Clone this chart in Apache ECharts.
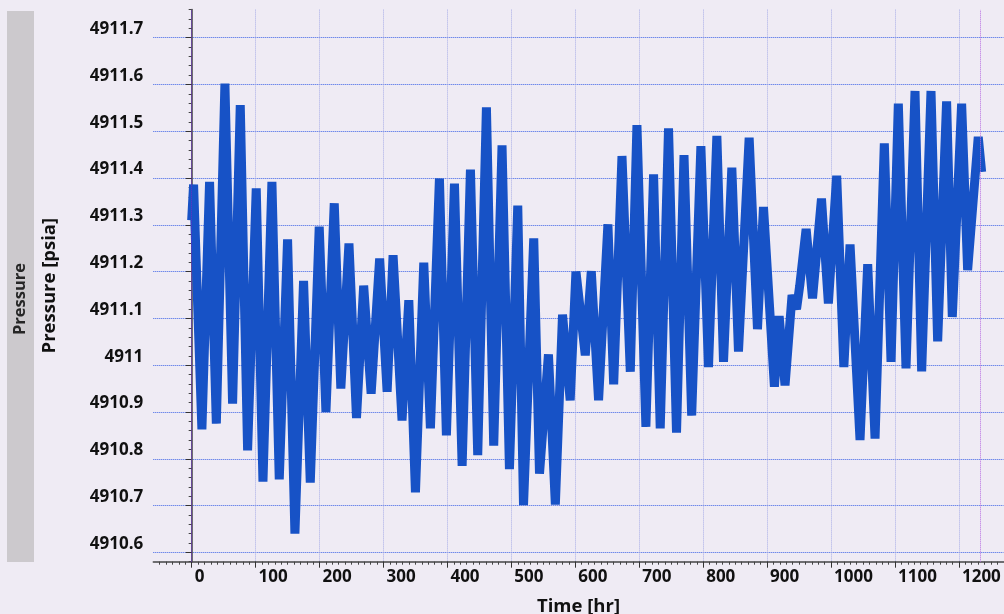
<!DOCTYPE html>
<html>
<head>
<meta charset="utf-8">
<script src="https://cdn.jsdelivr.net/npm/echarts@6/dist/echarts.min.js"></script>
<style>
html,body{margin:0;padding:0;background:#efebf4;}
#chart{width:1004px;height:614px;}
</style>
</head>
<body>
<div id="chart"></div>
<script>
// ---- data (turning points of the signal) ----
const timeHr = [0, 3, 16, 28, 38.6, 52, 64, 76, 87.5, 101, 111.5, 125.5, 137, 150, 161.5, 175, 185.5, 199.5, 210, 223, 233.3, 246, 257.8, 269, 280.7, 294, 305.7, 315, 329, 339.6, 350, 363, 373.4, 387.5, 398.4, 411, 423, 436, 447.4, 461, 472.4, 485.4, 497, 510, 519, 535, 544, 558, 568.8, 580, 592, 601, 615.6, 625, 636.4, 651, 660, 673, 686, 696.4, 710.4, 722.4, 732.8, 745.8, 758.3, 770, 782, 796.4, 808.3, 821.4, 831.8, 844.8, 855.2, 871.9, 884.9, 894.3, 911.4, 918.8, 928, 939, 946, 951, 961, 971, 985, 995.8, 1008.8, 1020, 1029.7, 1045.3, 1057.3, 1068.8, 1083.3, 1093.8, 1105.2, 1117.2, 1131.3, 1141.7, 1156.3, 1166.7, 1180.7, 1189.6, 1204.2, 1213.6, 1230.2, 1235.5];
const pressurePsia = [4911.31, 4911.386, 4910.863, 4911.392, 4910.875, 4911.602, 4910.918, 4911.556, 4910.818, 4911.378, 4910.751, 4911.392, 4910.756, 4911.269, 4910.640, 4911.180, 4910.749, 4911.296, 4910.900, 4911.346, 4910.950, 4911.260, 4910.887, 4911.170, 4910.939, 4911.228, 4910.943, 4911.235, 4910.882, 4911.139, 4910.728, 4911.219, 4910.865, 4911.399, 4910.850, 4911.388, 4910.785, 4911.418, 4910.808, 4911.551, 4910.828, 4911.470, 4910.778, 4911.341, 4910.701, 4911.271, 4910.768, 4911.023, 4910.702, 4911.108, 4910.925, 4911.200, 4911.021, 4911.201, 4910.925, 4911.301, 4910.959, 4911.447, 4910.986, 4911.513, 4910.868, 4911.408, 4910.865, 4911.506, 4910.856, 4911.449, 4910.892, 4911.468, 4910.996, 4911.490, 4911.007, 4911.422, 4911.029, 4911.486, 4911.077, 4911.338, 4910.954, 4911.105, 4910.957, 4911.150, 4911.120, 4911.170, 4911.291, 4911.143, 4911.356, 4911.132, 4911.405, 4910.996, 4911.258, 4910.840, 4911.216, 4910.843, 4911.474, 4911.007, 4911.559, 4910.993, 4911.586, 4910.987, 4911.586, 4911.051, 4911.564, 4911.103, 4911.559, 4911.203, 4911.488, 4911.413];
const markerTimes = [0, 1234];
const xMajorTicks = [0, 100, 200, 300, 400, 500, 600, 700, 800, 900, 1000, 1100, 1200];
const yMajorTicks = [4910.6, 4910.7, 4910.8, 4910.9, 4911.0, 4911.1, 4911.2, 4911.3, 4911.4, 4911.5, 4911.6, 4911.7];

const FONT = '"Open Sans", "DejaVu Sans", sans-serif';
const seriesData = timeHr.map((t, i) => [t, pressurePsia[i]]);
const T = 'rgba(0,0,0,0)';
const hGrid = '#3a60e6';
const vGrid = '#a7ade6';

const chart = echarts.init(document.getElementById('chart'), null, {renderer: 'canvas'});
chart.setOption({
  backgroundColor: '#efebf4',
  animation: false,
  graphic: [
    {type: 'rect', shape: {x: 7, y: 11, width: 27, height: 551}, style: {fill: '#ccc9cd'}, z: -1},
    {type: 'text', x: 20, y: 299, rotation: Math.PI / 2,
     style: {text: 'Pressure', font: 'bold 16.5px ' + FONT, fill: '#262626', align: 'center', verticalAlign: 'middle'}}
  ],
  grid: {left: 153.3, right: 0.3, top: 9.6, bottom: 52.3, containLabel: false, outerBoundsMode: 'none'},
  xAxis: [{
    type: 'value', min: -60, max: 1270, interval: 10,
    name: 'Time [hr]', nameLocation: 'middle', nameGap: 36, nameMoveOverlap: false,
    nameTextStyle: {fontFamily: FONT, fontWeight: 'bold', fontSize: 18.5, color: '#111'},
    axisLine: {show: true, lineStyle: {color: '#444', width: 1.5}},
    axisTick: {show: true, length: 3, lineStyle: {color: '#444'}},
    axisLabel: {
      fontFamily: FONT, fontWeight: 'bold', fontSize: 17, color: '#111', margin: 7,
      align: 'left', padding: [0, 0, 0, 3],
      showMinLabel: false, showMaxLabel: false,
      formatter: v => (Math.abs(v % 100) < 1e-6 ? String(v) : '')
    },
    splitLine: {show: true, lineStyle: {color: [T, T, T, T, T, T, vGrid, T, T, T], type: 'dotted', width: 1}}
  }, {
    type: 'value', min: -60, max: 1270, position: 'bottom', offset: 0,
    axisLine: {show: false},
    axisTick: {show: true, length: 6, customValues: xMajorTicks, lineStyle: {color: '#333'}},
    axisLabel: {show: false},
    splitLine: {show: false}
  }],
  yAxis: [{
    type: 'value', min: 4910.58, max: 4911.76, interval: 0.02,
    name: 'Pressure [psia]', nameLocation: 'middle', nameGap: 94, nameMoveOverlap: false,
    nameTextStyle: {fontFamily: FONT, fontWeight: 'bold', fontSize: 18.5, color: '#111'},
    axisLine: {show: true, lineStyle: {color: '#444', width: 1.5}},
    axisTick: {show: true, length: 3, lineStyle: {color: '#444'}},
    axisLabel: {
      fontFamily: FONT, fontWeight: 'bold', fontSize: 17, color: '#111', margin: 10,
      verticalAlign: 'bottom',
      formatter: v => (Math.abs(Math.round(v * 10) - v * 10) < 1e-6 ? String(Math.round(v * 10) / 10) : '')
    },
    splitLine: {show: true, lineStyle: {color: [T, hGrid, T, T, T], type: 'dotted', width: 1}}
  }, {
    type: 'value', min: 4910.58, max: 4911.76, position: 'left', offset: 0,
    axisLine: {show: false},
    axisTick: {show: true, length: 6, customValues: yMajorTicks, lineStyle: {color: '#333'}},
    axisLabel: {show: false},
    splitLine: {show: false}
  }],
  series: [{
    type: 'line',
    data: seriesData,
    showSymbol: false,
    symbol: 'none',
    sampling: null,
    lineStyle: {color: '#1752c6', width: 9, join: 'bevel'},
    itemStyle: {color: '#1752c6'},
    markLine: {
      silent: true, symbol: 'none', label: {show: false},
      data: markerTimes.map((t, i) => ({xAxis: t, lineStyle: {color: i === 0 ? '#6a2fc2' : '#b76de0', type: 'dotted', width: 1}}))
    },
    z: 3
  }]
});
</script>
</body>
</html>
